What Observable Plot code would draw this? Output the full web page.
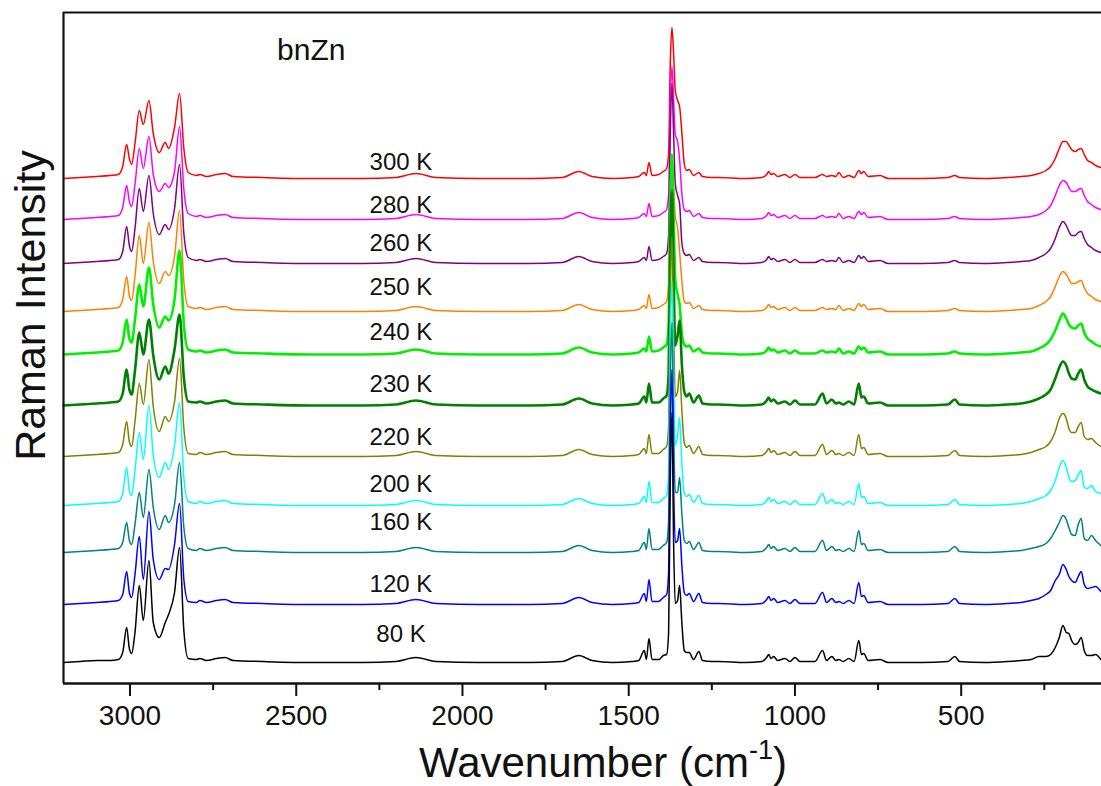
<!DOCTYPE html>
<html><head><meta charset="utf-8">
<script src="https://cdn.jsdelivr.net/npm/d3@7"></script>
<script src="https://cdn.jsdelivr.net/npm/@observablehq/plot@0.6"></script>
<style>body{margin:0;background:#fff;} svg{display:block}</style>
</head><body><div id="chart"></div>
<script>
// Series (top to bottom)
const temps = ["300 K","280 K","260 K","250 K","240 K","230 K","220 K","200 K","160 K","120 K","80 K"];
const colors = ["#ff0000","#ff00ff","#800080","#ff8000","#00f000","#008000","#808000","#00ffff","#008080","#0000ff","#000000"];
const widths = [1.5,1.5,1.5,1.5,2.6,2.6,1.5,1.5,1.5,1.5,1.5];
const baselines = [505,464,420,372,329,278,227,178,131,79,21];
const labelY = [521,478,440,396,351,299,246,199,161,99,49];
const labelX = 2185;

// Wavenumber grids (cm-1)
const wnCH = [3200,3150,3100,3060,3035,3022,3010,3002,2995,2985,2972,2960,2943,2930,2912,2894,2884,2866,2851,2838,2825,2800];
const wnMid = [2790,2770,2740,2714,2690,2600,2450,2300,2200,2140,2080,1950,1800,1700,1650,1610,1550,1490];
const wnMain = [1470,1453,1447,1439,1430,1410,1396,1386,1380,1375,1370,1365,1360,1353,1347,1340,1333,1326,1318,1305,1289,1278,1250];
const wnFinger = [1230,1150,1100,1085,1079,1072,1064,1052,1030,1015,1000,985,940,917,905,889,877,868,855,838,822,808,800,793,780,744,720,620,540,519,505,430];
const wnLow = [360,320,290,266,245,231,217,205,194,184,176,168,157,148,139,130,120,108,96,80];

// Intensities above each baseline
const chRegion = [
  [0,1,2,3,4,12,34,20,14,35,68,54,78,45,26,36,30,51,85,30,6,3],
  [0,1,2,3,4,12,34,18,13,35,71,51,83,45,28,36,32,48,93,30,6,3],
  [0,1,2,3,4,12,37,18,12,35,75,52,88,50,29,39,34,55,99,30,6,3],
  [0,1,2,3,4,12,35,16,11,35,76,48,89,50,28,40,36,55,101,30,5,3],
  [0,1,2,3,4,12,35,16,12,35,70,48,87,50,27,38,34,55,104,30,5,3],
  [0,1,2,3,4,12,36,16,11,35,73,51,86,50,26,39,32,56,91,28,4,3],
  [0,1,2,3,4,12,35,15,10,35,73,52,97,50,25,40,35,55,98,28,3,2],
  [0,1,2,3,4,12,38,15,10,35,73,46,100,50,28,43,36,60,103,28,4,2],
  [0,1,2,3,4,10,30,12,8,28,60,35,83,45,23,37,30,48,90,25,4,2],
  [0,1,2,3,4,10,33,12,7,30,68,25,93,45,25,36,35,60,101,25,3,2],
  [0,1,2,2,3,10,35,14,9,30,77,42,102,40,25,40,48,70,115,32,4,3]
];
const midShared = [4,2,4,5,2,1,0,0,1,5,1,0,0,1,7,2,0,1];
const mainRegion = [
  [2,6,3,16,3,4,7,10,25,115,151,125,88,78,72,45,15,8,9,3,6,2,1],
  [2,6,3,16,3,4,7,10,25,115,153,120,85,78,60,25,10,8,9,3,6,2,1],
  [2,6,3,17,3,4,7,10,28,130,180,130,80,68,60,20,10,8,9,3,6,2,1],
  [2,6,3,17,3,4,7,10,28,120,150,125,95,84,60,30,10,8,9,3,6,2,1],
  [2,6,3,18,3,4,7,10,30,150,200,140,75,60,50,20,10,8,9,3,6,2,1],
  [2,9,3,22,3,3,7,10,32,160,215,130,60,70,85,40,14,9,12,3,10,2,1],
  [2,8,3,22,3,3,7,10,32,165,220,130,60,65,86,45,14,9,11,3,10,2,1],
  [2,9,3,24,3,3,7,10,32,170,225,130,60,70,88,40,12,9,11,3,10,2,1],
  [2,10,3,24,3,3,7,10,32,170,230,125,60,60,75,38,12,9,11,3,10,2,1],
  [2,11,3,25,3,3,7,10,32,175,235,120,62,64,76,38,12,9,11,3,11,2,1],
  [2,12,3,24,3,3,7,8,30,180,250,120,59,62,77,39,12,10,10,3,11,2,1]
];
const fingerHigh = [1,0,1,4,7,4,5,2,4,1,4,1,1,4,2,3,2,6,1,3,1,8,5,7,2,3,0,0,1,3,1,0];
const fingerLow  = [1,0,1,5,8,4,6,2,4,1,5,1,1,12,2,6,2,3,1,4,1,22,8,9,2,3,0,0,1,6,1,0];
const lowRegion = [
  [1,2,3,5,8,12,20,30,37,37,33,29,27,29,30,24,18,16,13,11],
  [1,2,3,5,9,14,24,34,39,37,32,28,28,30,31,24,18,15,12,10],
  [1,2,3,6,10,15,25,36,42,38,32,28,28,31,32,25,19,16,13,11],
  [1,2,3,6,10,15,25,35,40,37,32,28,28,30,31,24,18,15,12,10],
  [1,2,3,6,10,15,24,34,41,36,30,27,26,29,31,22,16,13,10,8],
  [1,2,4,7,11,16,27,38,44,40,32,27,26,32,36,26,19,16,14,12],
  [1,2,4,7,10,15,25,38,43,38,28,24,24,30,34,20,17,18,14,10],
  [1,2,4,7,10,15,25,38,45,38,28,24,25,31,35,18,17,20,14,12],
  [1,2,4,6,9,14,22,30,37,33,25,18,17,28,34,14,12,17,12,7],
  [1,2,4,6,10,14,24,30,40,35,28,24,22,28,33,20,16,17,18,13],
  [1,2,3,6,6,8,15,25,37,30,29,22,18,20,25,12,7,7,8,3]
];

const majorTicks = [3000,2500,2000,1500,1000,500];
const minorTicks = [2750,2250,1750,1250,750,250];

function seriesRows(i) {
  const segs = [[wnCH, chRegion[i]], [wnMid, midShared], [wnMain, mainRegion[i]],
                [wnFinger, i < 5 ? fingerHigh : fingerLow], [wnLow, lowRegion[i]]];
  const rows = [];
  for (const [xs, hs] of segs) xs.forEach((w, k) => rows.push({w, y: baselines[i] + hs[k]}));
  return rows;
}

const font = "Liberation Sans, Arial, Helvetica, sans-serif";
const marks = [];
temps.forEach((t, i) => {
  marks.push(Plot.line(seriesRows(i), {x: "w", y: "y", stroke: colors[i], strokeWidth: widths[i], curve: "monotone-x"}));
});
marks.push(Plot.text(temps, {x: () => labelX, y: (d, i) => labelY[i], text: d => d, fontSize: 24, fill: "#111", textAnchor: "middle"}));
marks.push(Plot.text(["bnZn"], {x: () => 2455, y: () => 633, text: d => d, fontSize: 30, fill: "#111"}));
marks.push(Plot.text(["Raman Intensity"], {x: () => 3200, dx: -32, y: () => 378, rotate: -90, text: d => d, fontSize: 43, fill: "#111"}));
marks.push(Plot.ruleX([3200], {stroke: "#111", strokeWidth: 2.2}));
marks.push(Plot.ruleY([671], {stroke: "#111", strokeWidth: 2.2}));
marks.push(Plot.ruleY([0], {stroke: "#111", strokeWidth: 2.5}));
marks.push(Plot.axisX(majorTicks, {tickSize: 13, tickPadding: 9, tickFormat: d => String(d), fontSize: 28, strokeWidth: 2, stroke: "#111", fill: "#111"}));
marks.push(Plot.axisX(minorTicks, {tickSize: 7, tickFormat: () => "", strokeWidth: 2, stroke: "#111", label: null}));

const chart = Plot.plot({
  width: 1101, height: 786,
  marginLeft: 63, marginRight: 0, marginTop: 12, marginBottom: 103,
  style: {fontFamily: font, background: "#fff", overflow: "visible"},
  x: {domain: [3200, 78], axis: null, label: null},
  y: {domain: [0, 671], axis: null},
  marks
});
document.getElementById("chart").appendChild(chart);

// x-axis title with superscript
const svg = d3.select(chart);
const t = svg.append("text").attr("x", 603).attr("y", 777).attr("text-anchor", "middle")
  .attr("font-family", font).attr("font-size", 42).attr("fill", "#111");
t.append("tspan").text("Wavenumber (cm");
t.append("tspan").attr("font-size", 27).attr("dy", -18).text("-1");
t.append("tspan").attr("dy", 18).text(")");
</script></body></html>
